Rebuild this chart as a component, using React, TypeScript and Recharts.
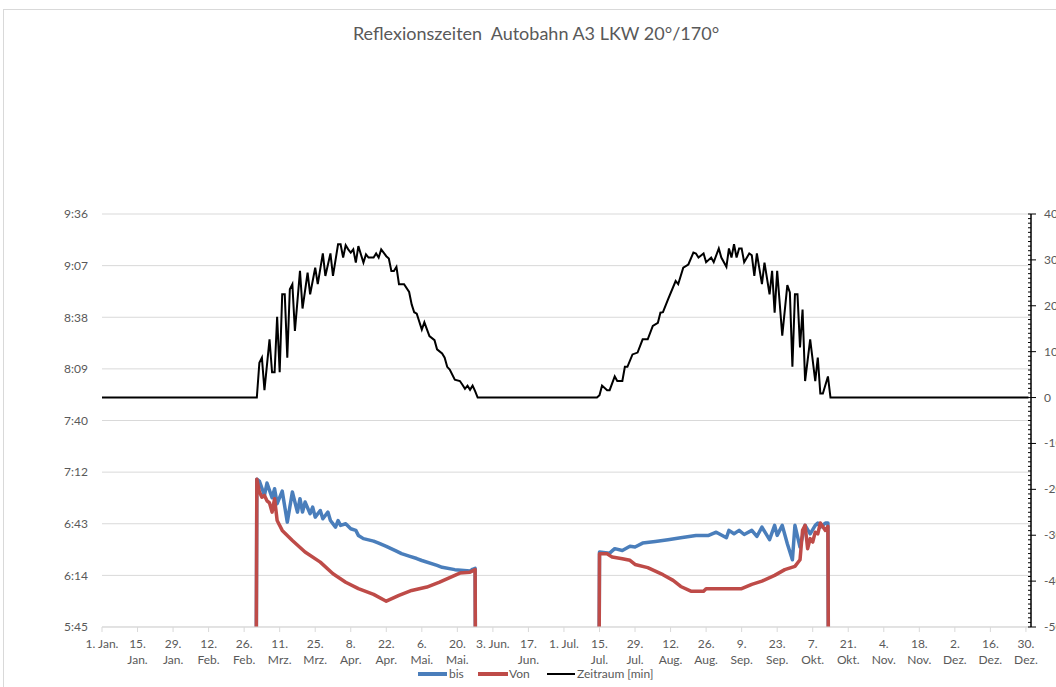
import React from 'react';
import { LineChart, Line, XAxis, YAxis, CartesianGrid } from 'recharts';

// x = day of the year (0 = 1. Jan., leap year), left values = clock time in minutes after midnight
const bisPoints: [number, number][] = [
  [0, 0], [60, 0],
  [61, 428], [62, 427], [64, 419], [65, 425.9], [67, 417.7], [68, 422.7], [69, 414.4], [71, 421.4],
  [73, 404.1], [75, 420.9], [77, 409.7], [78, 417.2], [79, 409.7], [80, 415.3], [82, 408.8], [83, 412.5],
  [84, 406.9], [86, 410.6], [87, 406], [89, 409.7], [90, 405], [92, 401.3], [93, 405], [94, 402.3],
  [96, 403.2], [98, 400.4], [100, 399.5], [101, 396.7], [103, 394.9], [107, 393.5], [109, 392.4],
  [112, 390.6], [116, 387.9], [118, 386.5], [121, 385.1], [124, 383.8], [126, 382.7], [132, 380],
  [134, 378.9], [139, 377.6], [145, 376.8], [146, 377.8], [147, 378.3],
  [148, 0], [195, 0],
  [196, 387.4], [200, 386.8], [202, 389.3], [205, 388.3], [208, 390.6], [210, 390.2], [213, 392.4],
  [218, 393.3], [223, 394.3], [228, 395.4], [234, 396.7], [239, 396.7], [242, 398.5], [246, 395.4],
  [247, 399.5], [249, 397.6], [251, 399.5], [253, 397.2], [256, 399.5], [258, 396.1], [260, 401.3],
  [263, 394.3], [265, 402.3], [266, 396.7], [268, 402.3], [270, 392], [272, 383.1], [273, 402.3],
  [275, 390.2], [277, 402.3], [279, 397.6], [281, 402.3], [282, 403.6], [283, 401.3], [285, 403.6],
  [286, 403.6],
  [287, 0], [365, 0],
];

const vonPoints: [number, number][] = [
  [0, 0], [60, 0],
  [61, 428], [62, 421], [63, 418], [64, 419], [65, 416], [66, 414.8], [67, 409.7], [68, 417.2],
  [69, 405], [71, 399.5], [73, 396.7], [75, 393.9], [80, 387.4], [86, 381.8], [91, 375.3], [96, 370.6],
  [101, 367], [107, 363.8], [112, 360], [117, 363.2], [122, 366], [128, 367.9], [133, 370.6],
  [137, 373.1], [141, 375.7], [145, 376.2], [147, 377.6],
  [148, 0], [195, 0],
  [196, 386.5], [199, 386.5], [201, 384.6], [205, 383.7], [208, 382.8], [210, 380.5], [215, 378.7],
  [221, 374.8], [225, 371.6], [228, 368.2], [232, 365.6], [237, 365.6], [238, 367], [252, 367],
  [256, 369.4], [260, 371.2], [265, 374.4], [269, 377.6], [273, 379.4], [275, 383.1], [276, 399.5],
  [277, 402.3], [278, 389.3], [279, 394.9], [280, 393], [281, 398.5], [282, 397.6], [283, 403.6],
  [285, 399.5], [286, 401.7],
  [287, 0], [365, 0],
];

// Zeitraum [min] on the right axis
const zeitraumPoints: [number, number][] = [
  [0, 0], [61, 0],
  [62, 7.6], [63, 8.7], [64, 1.6], [66, 12.7], [67, 5.5], [68, 5.5], [69, 17.6], [70, 5.5], [71, 22.5],
  [72, 22.5], [73, 8.7], [74, 23.6], [75, 24.7], [76, 14.5], [78, 27.6], [79, 19.4], [81, 27.2],
  [82, 22.5], [84, 28.3], [85, 24.7], [87, 31.4], [88, 26.5], [90, 31.4], [91, 26.5], [93, 33.4],
  [94, 33.4], [95, 30.5], [96, 33.2], [97, 32.3], [98, 31.6], [99, 32.3], [100, 29.4], [101, 33],
  [103, 29.4], [104, 31.2], [105, 30.5], [107, 30.5], [108, 31.4], [109, 30.5], [110, 32.3],
  [112, 30.8], [113, 30.3], [114, 27.6], [115, 27.6], [116, 28.5], [117, 24.7], [119, 24.7],
  [121, 23], [122, 20.3], [123, 18.6], [124, 18.3], [126, 14.8], [127, 16.4], [129, 13.4],
  [131, 12.5], [132, 10.5], [134, 9.6], [135, 8.7], [136, 6.7], [137, 6.1], [139, 3.9], [141, 3.6],
  [142, 2.8], [143, 1.9], [144, 2.6], [145, 1.7], [146, 2.6], [147, 1.4],
  [148, 0], [195, 0],
  [196, 0.5], [197, 2.6], [199, 1.6], [200, 1.6], [202, 4.6], [203, 3.6], [205, 3.6], [206, 6.7],
  [207, 6.7], [209, 9.4], [211, 9.8], [213, 12.7], [215, 12.7], [217, 15.6], [219, 16.3], [220, 18.5],
  [221, 18.6], [223, 21.4], [226, 25.4], [227, 24.7], [229, 28.3], [231, 29], [233, 31.6], [234, 31.4],
  [235, 30.5], [237, 31.4], [238, 29.5], [240, 30.5], [241, 29.5], [243, 32.5], [244, 30.5],
  [246, 28.5], [247, 32.5], [248, 30.5], [249, 33.4], [250, 30.5], [251, 32.5], [252, 32.5],
  [253, 29.5], [255, 31.4], [256, 31], [257, 26.5], [258, 31.4], [260, 24.7], [261, 29.4],
  [263, 22.5], [264, 27.6], [265, 18.5], [266, 27.6], [268, 13.5], [270, 24.5], [271, 22.9],
  [272, 6.7], [273, 22.5], [274, 22.5], [275, 10.9], [276, 19.2], [277, 3.6], [279, 12.7],
  [281, 3.6], [282, 8.7], [283, 0.9], [284, 0.9], [286, 4.6],
  [287, 0], [365, 0],
];

const xTicks = [0, 14, 28, 42, 56, 70, 84, 98, 112, 126, 140, 154, 168, 182, 196, 210, 224, 238, 252, 266, 280, 294, 308, 322, 336, 350, 364];
const xTickLabels = [
  '1. Jan.', '15.\nJan.', '29.\nJan.', '12.\nFeb.', '26.\nFeb.', '11.\nMrz.', '25.\nMrz.', '8.\nApr.', '22.\nApr.',
  '6.\nMai.', '20.\nMai.', '3. Jun.', '17.\nJun.', '1. Jul.', '15.\nJul.', '29.\nJul.', '12.\nAug.', '26.\nAug.',
  '9.\nSep.', '23.\nSep.', '7.\nOkt.', '21.\nOkt.', '4.\nNov.', '18.\nNov.', '2.\nDez.', '16.\nDez.', '30.\nDez.',
];

// 0.24 .. 0.40 of a day, in minutes
const leftTicks = [345.6, 374.4, 403.2, 432, 460.8, 489.6, 518.4, 547.2, 576];
const rightMajorTicks = [-50, -40, -30, -20, -10, 0, 10, 20, 30, 40];
const rightTicks = Array.from({ length: 91 }, (_, i) => i - 50);

const FONT = 'Lato, "Open Sans", sans-serif';
const TEXT = '#595959';
const GRID = '#d9d9d9';
const BLUE = '#4a7ebb';
const RED = '#be4b48';

const toRows = (pts: [number, number][]) => pts.map(([day, v]) => ({ day, v }));

const fmtTime = (v: number) => {
  const m = Math.floor(v + 1e-6);
  return `${Math.floor(m / 60)}:${String(m % 60).padStart(2, '0')}`;
};

function XTick({ x, y, payload }: any) {
  const i = xTicks.indexOf(payload.value);
  const lines = (xTickLabels[i] ?? '').split('\n');
  return (
    <text x={x} y={y} textAnchor="middle" fill={TEXT} fontSize={12} fontFamily={FONT}>
      {lines.map((l, k) => (
        <tspan key={k} x={x} dy={k === 0 ? 14 : 16}>{l}</tspan>
      ))}
    </text>
  );
}

function RightTick({ x, y, payload }: any) {
  const v = payload.value;
  const major = rightMajorTicks.includes(v);
  return (
    <g>
      <line x1={x - 3} x2={major ? x + 5 : x} y1={y} y2={y} stroke="#000" strokeWidth={1} />
      {major && (
        <text x={x + 13} y={y + 4} fill={TEXT} fontSize={12} fontFamily={FONT}>{v}</text>
      )}
    </g>
  );
}

const legendText: React.CSSProperties = {
  position: 'absolute', top: 668, fontFamily: FONT, fontSize: 12, lineHeight: '12px', color: TEXT, whiteSpace: 'nowrap',
};

export default function App() {
  return (
    <div style={{ position: 'fixed', left: 0, top: 0, width: 1056, height: 687, overflow: 'hidden', background: '#fff' }}>
      <div style={{ position: 'absolute', left: 3, top: 9, width: 1200, height: 800, borderLeft: `1px solid ${GRID}`, borderTop: `1px solid ${GRID}` }} />
      <div style={{ position: 'absolute', left: 0, top: 22, width: 1072, textAlign: 'center', fontFamily: FONT, fontSize: 18, color: TEXT }}>
        Reflexionszeiten&nbsp; Autobahn A3 LKW 20°/170°
      </div>
      <div style={{ position: 'absolute', left: 0, top: 0 }}>
        <LineChart width={1100} height={687} margin={{ top: 214, right: 0, bottom: 0, left: 0 }}>
          <CartesianGrid yAxisId="left" vertical={false} stroke={GRID} />
          <XAxis
            dataKey="day"
            type="number"
            domain={[0, 366]}
            ticks={xTicks}
            interval={0}
            allowDataOverflow
            height={60}
            tickSize={5}
            tickMargin={2}
            axisLine={{ stroke: GRID }}
            tickLine={{ stroke: GRID }}
            tick={(p: any) => <XTick {...p} />}
          />
          <YAxis
            yAxisId="left"
            orientation="left"
            type="number"
            domain={[345.6, 576]}
            ticks={leftTicks}
            interval={0}
            allowDataOverflow
            width={102}
            axisLine={false}
            tickLine={false}
            tickSize={0}
            tickMargin={14}
            tickFormatter={fmtTime}
            tick={{ fill: TEXT, fontSize: 12, fontFamily: FONT }}
          />
          <YAxis
            yAxisId="right"
            orientation="right"
            type="number"
            domain={[-50, 40]}
            ticks={rightTicks}
            interval={0}
            allowDataOverflow
            width={69}
            axisLine={{ stroke: '#000', strokeWidth: 1.5 }}
            tickLine={false}
            tickSize={0}
            tickMargin={0}
            tick={(p: any) => <RightTick {...p} />}
          />
          <Line yAxisId="left" data={toRows(bisPoints)} dataKey="v" name="bis" stroke={BLUE} strokeWidth={3.5} dot={false} isAnimationActive={false} strokeLinejoin="round" />
          <Line yAxisId="left" data={toRows(vonPoints)} dataKey="v" name="Von" stroke={RED} strokeWidth={3.5} dot={false} isAnimationActive={false} strokeLinejoin="round" />
          <Line yAxisId="right" data={toRows(zeitraumPoints)} dataKey="v" name="Zeitraum [min]" stroke="#000" strokeWidth={2} dot={false} isAnimationActive={false} />
        </LineChart>
      </div>
      <div style={{ position: 'absolute', left: 418, top: 672, width: 29, height: 4, background: BLUE }} />
      <div style={{ ...legendText, left: 449 }}>bis</div>
      <div style={{ position: 'absolute', left: 478, top: 672, width: 30, height: 4, background: RED }} />
      <div style={{ ...legendText, left: 509 }}>Von</div>
      <div style={{ position: 'absolute', left: 547, top: 673, width: 28, height: 2, background: '#000' }} />
      <div style={{ ...legendText, left: 577 }}>Zeitraum [min]</div>
    </div>
  );
}
